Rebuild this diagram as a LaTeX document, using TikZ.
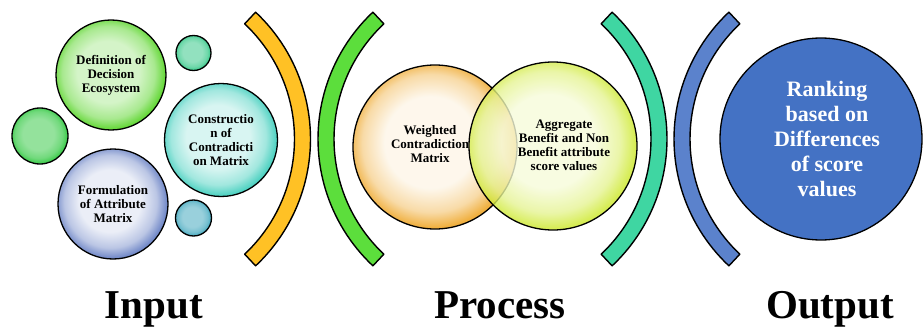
\documentclass[tikz,border=0pt]{standalone}
\usepackage{fontspec}
\setmainfont{Liberation Serif}
\definecolor{cOrange}{HTML}{FFC125}
\definecolor{cGreen}{HTML}{5CDE3C}
\definecolor{cTeal}{HTML}{3FD6A2}
\definecolor{cBlue}{HTML}{5B82CC}
\definecolor{cDef}{HTML}{66D83A}
\definecolor{cSmA}{HTML}{38C98A}
\definecolor{cSmL}{HTML}{3CCB4B}
\definecolor{cCon}{HTML}{4FD2C2}
\definecolor{cForm}{HTML}{7289C8}
\definecolor{cSmB}{HTML}{45A9BF}
\definecolor{cWcm}{HTML}{F0B040}
\definecolor{cAgg}{HTML}{CCE82A}
\definecolor{cRank}{HTML}{4472C4}
\colorlet{shIn}{white}
\colorlet{shMid}{gray}
\colorlet{shOut}{black}
\pgfdeclareradialshading[shIn,shMid,shOut]{glow}{\pgfpoint{-2bp}{2bp}}{%
  color(0bp)=(shIn); color(14bp)=(shIn); color(21bp)=(shMid); color(25.5bp)=(shOut); color(50bp)=(shOut)}
\tikzset{
  ball/.style={circle, draw=black, line width=1.3pt, inner sep=0pt, align=center,
    font=\bfseries\fontsize{13}{14}\selectfont},
  glowball/.style 2 args={/utils/exec={\colorlet{shIn}{#1}\colorlet{shOut}{#2}\colorlet{shMid}{shOut!40!shIn}}, shading=glow, shade},
  band/.style={draw=black, line width=1.4pt, line join=round},
  header/.style={font=\bfseries\fontsize{41}{44}\selectfont, anchor=base}
}
\begin{document}
\begin{tikzpicture}[x=1pt,y=-1pt]
\useasboundingbox (0,0) rectangle (924,329);
% bands
\draw[band, fill=cOrange] (136.5,139) ++(-46.8:174) arc[start angle=-46.8, end angle=46.8, radius=174]
  -- ++(226.8:16) arc[start angle=46.8, end angle=-46.8, radius=158] -- cycle;
\draw[band, fill=cGreen] (492,139) ++(133.2:174) arc[start angle=133.2, end angle=226.8, radius=174]
  -- ++(46.8:16) arc[start angle=226.8, end angle=133.2, radius=158] -- cycle;
\draw[band, fill=cTeal] (493,139) ++(-46.8:174) arc[start angle=-46.8, end angle=46.8, radius=174]
  -- ++(226.8:16) arc[start angle=46.8, end angle=-46.8, radius=158] -- cycle;
\draw[band, fill=cBlue] (848,139) ++(133.2:174) arc[start angle=133.2, end angle=226.8, radius=174]
  -- ++(46.8:16) arc[start angle=226.8, end angle=133.2, radius=158] -- cycle;
% input balls
\node[ball, minimum size=110pt, glowball={cDef!28}{cDef}] (def) at (111,75) {Definition of\\Decision\\Ecosystem};
\node[ball, minimum size=35pt, glowball={cSmA!55}{cSmA}] (sma) at (193.5,53) {};
\node[ball, minimum size=56pt, glowball={cSmL!55}{cSmL}] (sml) at (40,136) {};
\node[ball, minimum size=113pt, glowball={cCon!22}{cCon}] (con) at (221,140) {Constructio\\n of\\Contradicti\\on Matrix};
\node[ball, minimum size=110pt, glowball={cForm!14}{cForm}] (form) at (113,204) {Formulation\\of Attribute\\Matrix};
\node[ball, minimum size=36pt, glowball={cSmB!55}{cSmB}] (smb) at (193.5,218) {};
% process
\node[ball, minimum size=164pt, glowball={cWcm!10}{cWcm}] (wcm) at (435,147) {};
\node[ball, minimum size=168pt, glowball={cAgg!18}{cAgg}, fill opacity=0.8] (agg) at (553,146) {};
\node[font=\bfseries\fontsize{13}{14}\selectfont, align=center] (wcmt) at (430,144) {Weighted\\Contradiction\\Matrix};
\node[font=\bfseries\fontsize{13}{14}\selectfont, align=center] (aggt) at (564,145) {Aggregate\\Benefit and Non\\Benefit attribute\\score values};
% output
\node[ball, minimum size=202pt, fill=cRank] (rank) at (821,139) {};
\node[font=\bfseries\fontsize{22}{25}\selectfont, align=center, text=white] (rankt) at (827,139) {Ranking\\based on\\Differences\\of score\\values};
% headers
\node[header] (in) at (154,318) {Input};
\node[header] (pr) at (500,318) {Process};
\node[header] (out) at (830,318) {Output};
\end{tikzpicture}
\end{document}
